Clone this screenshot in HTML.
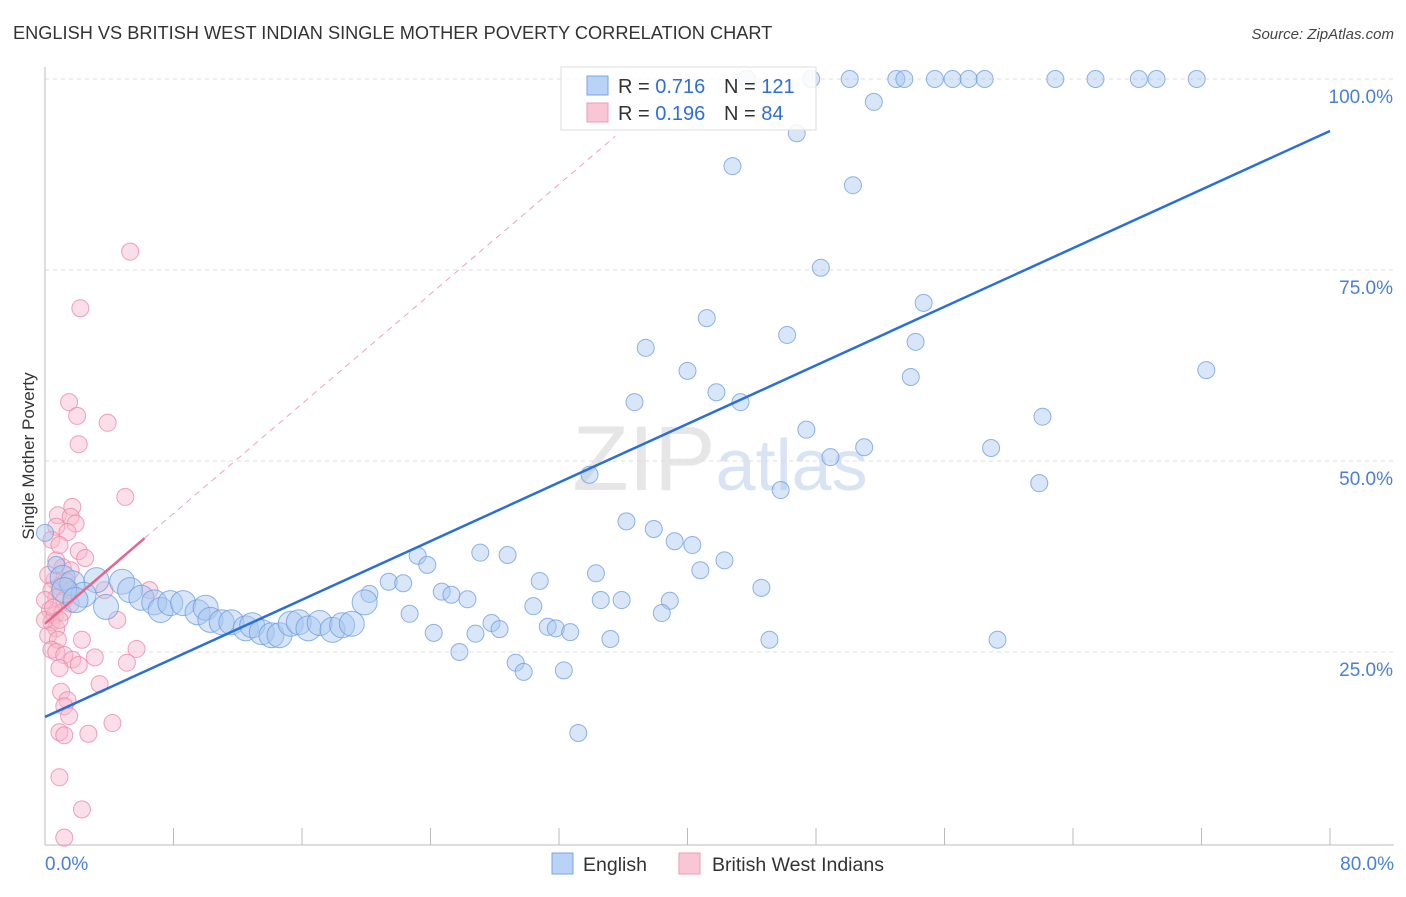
<!DOCTYPE html>
<html><head><meta charset="utf-8"><style>
body{margin:0;background:#fff;font-family:"Liberation Sans",sans-serif;}
svg text{font-family:"Liberation Sans",sans-serif;}
</style></head><body>
<svg id="chart" width="1406" height="892" xmlns="http://www.w3.org/2000/svg">
<text x="13" y="39" font-size="18.2" fill="#333">ENGLISH VS BRITISH WEST INDIAN SINGLE MOTHER POVERTY CORRELATION CHART</text>
<text x="1394" y="39" font-size="15" fill="#444" text-anchor="end" font-style="italic">Source: ZipAtlas.com</text>
<text x="720" y="490" font-size="92" fill="#e6e6e6" text-anchor="middle" font-family="Liberation Serif"><tspan>ZIP</tspan><tspan fill="#d8e4f4" font-family="Liberation Sans" font-size="72">atlas</tspan></text>
<g id="grid"></g>
<g id="axes"></g>
<g id="pinkpts"></g>
<g id="bluepts"></g>
<g id="lines"></g>
<text transform="translate(34,456) rotate(-90)" font-size="17" fill="#333" text-anchor="middle">Single Mother Poverty</text>
<g>
<rect x="561" y="67" width="255" height="63" fill="#fff" fill-opacity="0.85" stroke="#ddd"/>
<rect x="587" y="76" width="21" height="19" fill="#b8d3f5" stroke="#7aa6e6"/>
<rect x="587" y="103" width="21" height="19" fill="#f9c6d5" stroke="#ee9ab3"/>
<text x="618" y="93" font-size="20" fill="#333">R = <tspan fill="#2e6fd6">0.716</tspan><tspan x="724">N = </tspan><tspan fill="#2e6fd6">121</tspan></text>
<text x="618" y="120" font-size="20" fill="#333">R = <tspan fill="#2e6fd6">0.196</tspan><tspan x="724">N = </tspan><tspan fill="#2e6fd6"> 84</tspan></text>
</g>
<g><rect x="552" y="853" width="21" height="21" fill="#b8d3f5" stroke="#7aa6e6"/><text x="583" y="871" font-size="19.5" fill="#333">English</text></g>
<g><rect x="679" y="853" width="21" height="21" fill="#f9c6d5" stroke="#ee9ab3"/><text x="712" y="871" font-size="19.5" fill="#333">British West Indians</text></g>
</svg>
<script>
const blueX=[47.7,50.1,53.0,53.5,55.4,56.5,57.5,58.5,62.9,65.4,68.1,69.2,71.7,43.7,51.6,46.8,42.8,50.3,48.3,54.7,41.2,46.2,37.4,54.2,40.0,53.9,72.3,41.8,36.7,43.3,62.1,47.4,51.0,58.9,48.9,33.9,45.8,61.9,36.2,37.9,39.2,40.3,42.3,23.2,23.8,27.1,28.8,40.8,34.3,30.8,21.4,22.3,20.2,44.6,24.7,25.3,26.3,34.6,35.9,38.9,19.9,30.4,22.7,38.4,27.8,28.3,31.3,31.8,32.7,24.2,26.8,35.2,45.1,59.3,25.8,29.3,29.8,32.3,33.2,0,0.7,1.1,1.7,3.2,4.8,3.8,5.3,6.0,6.8,7.2,7.8,8.6,9.5,10.0,10.3,11.0,11.6,12.5,12.9,13.5,14.1,14.6,15.3,15.8,16.4,17.1,17.9,18.5,19.1,2.4,1.2,1.9];
const blueY=[100,100,100,100,100,100,100,100,100,100,100,100,100,100,97.0,92.9,88.6,86.1,75.3,70.7,68.7,66.5,64.8,65.6,61.8,61.0,61.9,59.0,57.7,57.7,55.8,54.1,51.8,51.7,50.5,48.2,46.2,47.1,42.1,41.1,39.5,39.0,37.0,37.6,36.4,38.0,37.7,35.7,35.3,34.3,34.2,34.0,32.6,33.4,32.9,32.5,31.9,31.8,31.8,31.7,31.5,31.0,30.0,30.1,28.8,28.0,28.3,28.1,27.6,27.5,27.4,26.7,26.6,26.6,25.0,23.6,22.4,22.6,14.4,40.6,36.4,34.7,34.0,34.4,34.2,30.9,33.1,32.1,31.5,30.5,31.4,31.4,30.2,30.8,29.2,28.9,28.9,28.1,28.5,27.6,27.2,27.2,28.7,28.9,28.1,28.8,27.9,28.5,28.7,32.5,33.1,31.8];
const pinkX=[5.3,2.2,1.5,2.0,3.9,2.1,5.0,1.7,0.8,1.6,0.7,1.9,1.4,2.1,2.5,0.7,1.1,1.6,0.6,0.9,1.3,0.4,0.7,1.2,1.6,0.3,0.6,1.1,0.4,0.7,0.2,0.8,2.3,0.4,0.7,1.2,1.7,2.1,3.1,5.1,5.7,0.9,3.4,1.0,1.4,1.2,1.5,4.2,0.9,1.2,2.7,0.9,2.3,1.2,0.4,0.9,6.5,3.7,4.5,0,0,0.2,0.5,0.9,1.6];
const pinkY=[77.4,70.0,57.7,55.9,55.0,52.2,45.3,44.0,42.9,42.7,41.4,41.8,40.7,38.2,37.3,37.0,36.1,35.7,34.4,33.6,34.3,33.1,32.1,31.8,31.3,30.5,29.8,30.2,28.9,28.1,27.2,26.6,26.6,25.3,25.0,24.6,24.0,23.3,24.3,23.6,25.4,22.9,20.8,19.8,18.7,17.9,16.6,15.7,14.5,14.1,14.3,8.6,4.4,0.7,39.7,39.0,33.1,33.1,29.2,31.8,29.2,35.1,30.8,29.2,33.1];
const blueLine=[[0,16.5],[80,93.2]];
const pinkSolid=[[0,28.7],[6.2,39.9]];
const pinkDash=[[6.2,39.9],[35.5,92.5]];
const yTicks=[25,50,75,100];
const yTickLabels=["25.0%","50.0%","75.0%","100.0%"];
const xTicks=[0,8,16,24,32,40,48,56,64,72,80];

const NS="http://www.w3.org/2000/svg";
const X=v=>45+v*1285/80;
const Y=v=>652-(v-25)*191/25;
function mk(tag,attrs,parent){const e=document.createElementNS(NS,tag);for(const k in attrs)e.setAttribute(k,attrs[k]);parent.appendChild(e);return e;}
const grid=document.getElementById('grid'),axes=document.getElementById('axes');
yTicks.forEach((t,i)=>{
  const l=mk('line',{x1:45,x2:1394,y1:Y(t),y2:Y(t),stroke:'#ddd','stroke-dasharray':'4,4'},grid);
  
  
  const tx=mk('text',{x:1393,y:Y(t)+24,'font-size':19,fill:'#4a7fd4','text-anchor':'end'},axes);
  tx.textContent=yTickLabels[i];
  
  
});
const ax=mk('line',{x1:45,x2:45,y1:67,y2:845,stroke:'#bbb'},axes);


const bx=mk('line',{x1:45,x2:1394,y1:845,y2:845,stroke:'#bbb'},axes);


xTicks.forEach(t=>{
  const l=mk('line',{x1:X(t),x2:X(t),y1:828,y2:845,stroke:'#bbb'},axes);
  
  
});
const x0=mk('text',{x:45,y:870,'font-size':19,fill:'#4a7fd4'},axes);x0.textContent='0.0%';


const x1=mk('text',{x:1394,y:870,'font-size':19,fill:'#4a7fd4','text-anchor':'end'},axes);x1.textContent='80.0%';



const pg=document.getElementById('pinkpts');
pinkX.forEach((v,i)=>{
  const c=mk('circle',{cx:X(v),cy:Y(pinkY[i]),r:8.5,fill:'#f7b8cb','fill-opacity':0.45,stroke:'#ec8aa8','stroke-opacity':0.8},pg);
  
  
});
const bg=document.getElementById('bluepts');
blueX.forEach((v,i)=>{
  const big=v<20&&blueY[i]<36;
  const c=mk('circle',{cx:X(v),cy:Y(blueY[i]),r:big?12.5:8.5,fill:'#a9c8f0','fill-opacity':0.45,stroke:'#6a9be0','stroke-opacity':0.75},bg);
  
  
});
const lg=document.getElementById('lines');
const bl=mk('line',{x1:X(blueLine[0][0]),y1:Y(blueLine[0][1]),x2:X(blueLine[1][0]),y2:Y(blueLine[1][1]),stroke:'#2a6fd8','stroke-width':2.5},lg);


const pd=mk('line',{x1:X(pinkDash[0][0]),y1:Y(pinkDash[0][1]),x2:X(pinkDash[1][0]),y2:Y(pinkDash[1][1]),stroke:'#e77a9b','stroke-width':1,'stroke-dasharray':'6,5','stroke-opacity':0.7},lg);


const ps=mk('line',{x1:X(pinkSolid[0][0]),y1:Y(pinkSolid[0][1]),x2:X(pinkSolid[1][0]),y2:Y(pinkSolid[1][1]),stroke:'#e5668c','stroke-width':2.5},lg);


</script>
</body></html>
